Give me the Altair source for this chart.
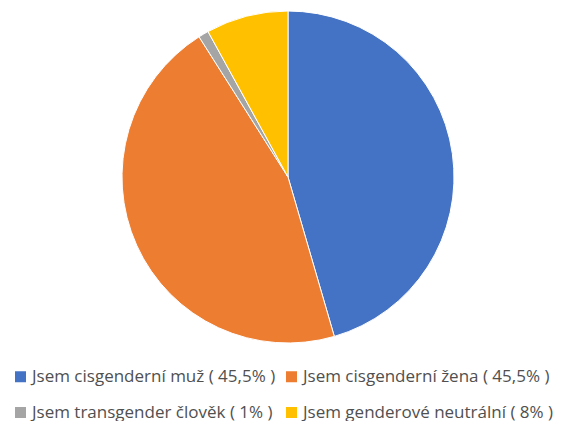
import altair as alt
import pandas as pd

categories = [
    "Jsem cisgenderní muž ( 45,5% )",
    "Jsem cisgenderní žena ( 45,5% )",
    "Jsem transgender člověk ( 1% )",
    "Jsem genderové neutrální ( 8% )",
]
values = [45.5, 45.5, 1, 8]
colors = ["#4472C4", "#ED7D31", "#A5A5A5", "#FFC000"]

df = pd.DataFrame({"cat": categories, "val": values, "ord": list(range(len(values)))})

chart = alt.Chart(df).mark_arc(outerRadius=166, stroke="white", strokeWidth=1).encode(
    theta=alt.Theta("val:Q", stack=True),
    order=alt.Order("ord:Q"),
    x=alt.value(280),
    y=alt.value(169),
    color=alt.Color(
        "cat:N",
        scale=alt.Scale(domain=categories, range=colors),
        legend=alt.Legend(
            title=None,
            orient="none",
            legendX=4,
            legendY=360,
            direction="horizontal",
            columns=2,
            symbolType="square",
            symbolSize=121,
            labelFontSize=17,
            labelFont="Open Sans",
            labelColor="#505050",
            labelLimit=400,
            labelOffset=3,
            rowPadding=18,
            columnPadding=7,
            symbolStrokeWidth=0,
        ),
    ),
).properties(width=556, height=336, padding=0).configure_view(stroke=None)

chart.save("out.html", embed_options={"renderer": "svg", "actions": False})
